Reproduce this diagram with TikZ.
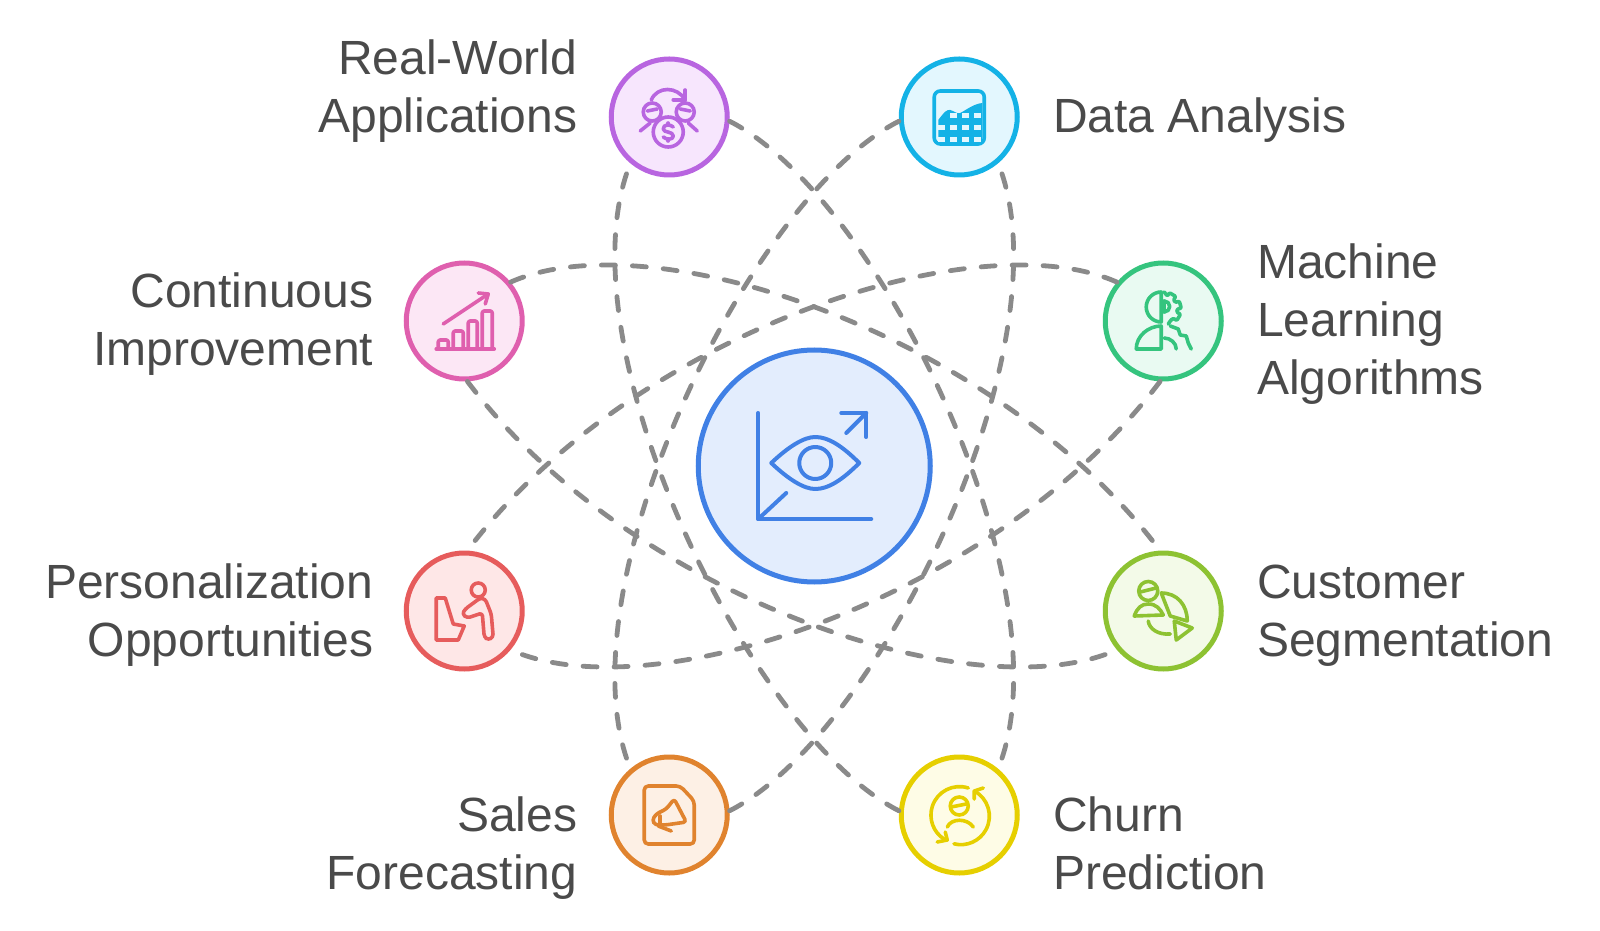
\documentclass[tikz,border=0pt]{standalone}
\usepackage{fontspec}
\setmainfont{Liberation Sans}
\usetikzlibrary{positioning}
\definecolor{linkgray}{HTML}{8A8A8A}
\definecolor{labelgray}{HTML}{4A4A4A}
\definecolor{blueline}{HTML}{4080E5}
\definecolor{bluefill}{HTML}{E3EDFD}
\definecolor{purpleline}{HTML}{B865E0}
\definecolor{purplefill}{HTML}{F7E6FD}
\definecolor{cyanline}{HTML}{14B2E6}
\definecolor{cyanfill}{HTML}{E3F7FE}
\definecolor{pinkline}{HTML}{DF5FAE}
\definecolor{pinkfill}{HTML}{FCE7F5}
\definecolor{greenline}{HTML}{35C47E}
\definecolor{greenfill}{HTML}{E9FAF2}
\definecolor{redline}{HTML}{E65C5C}
\definecolor{redfill}{HTML}{FEE7E7}
\definecolor{limeline}{HTML}{8DC232}
\definecolor{limefill}{HTML}{F3FAE8}
\definecolor{orangeline}{HTML}{E0832E}
\definecolor{orangefill}{HTML}{FDF0E5}
\definecolor{yellowline}{HTML}{E6CF00}
\definecolor{yellowfill}{HTML}{FEFCE6}

\begin{document}
\begin{tikzpicture}[
    x=0.5pt, y=0.5pt,
    every node/.style={font=\fontsize{24}{28.9}\selectfont, text=labelgray},
    topic/.style={draw=#1line, fill=#1fill, circle, line width=2.5pt, minimum size=58pt, inner sep=0pt},
    hub/.style={draw=blueline, fill=bluefill, circle, line width=2.5pt, minimum size=116pt, inner sep=0pt},
    leftlabel/.style={align=right, inner sep=0pt},
    rightlabel/.style={align=left, inner sep=0pt},
    link/.style={draw=linkgray, line width=2.4pt, line cap=round, dash pattern=on 7pt off 8.5pt},
    icon/.style={draw=#1line, line width=1.8pt, line cap=round, line join=round}
]
\useasboundingbox (-814.25,-465) rectangle (785.75,466);

\node (hubnode) [hub] at (0,0) {};
\node (realworld) [topic=purple] at (-145,349) {};
\node (dataanalysis) [topic=cyan] at (145,349) {};
\node (continuous) [topic=pink] at (-350,145) {};
\node (machine) [topic=green] at (349,145) {};
\node (personalization) [topic=red] at (-350,-145) {};
\node (customer) [topic=lime] at (349,-145) {};
\node (sales) [topic=orange] at (-145,-349) {};
\node (churn) [topic=yellow] at (145,-349) {};

\node (realworldtext) [leftlabel, left=15.5pt of realworld, yshift=13pt] {Real-World\\Applications};
\node (dataanalysistext) [rightlabel, right=16.5pt of dataanalysis, yshift=-1.5pt] {Data Analysis};
\node (continuoustext) [leftlabel, left=15pt of continuous, yshift=-1.5pt] {Continuous\\Improvement};
\node (machinetext) [rightlabel, right=16.5pt of machine, yshift=-1.5pt] {Machine\\Learning\\Algorithms};
\node (personalizationtext) [leftlabel, left=15pt of personalization, yshift=-2pt] {Personalization\\Opportunities};
\node (customertext) [rightlabel, right=16.5pt of customer, yshift=-2.5pt] {Customer\\Segmentation};
\node (salestext) [leftlabel, left=15.5pt of sales, yshift=-16.5pt] {Sales\\Forecasting};
\node (churntext) [rightlabel, right=16.5pt of churn, yshift=-14pt] {Churn\\Prediction};

\draw [link] (realworld.-4) .. controls +(-27:170) and +(68:190) .. (churn.50);
\draw [link] (churn.176) .. controls +(153:170) and +(248:190) .. (realworld.230);
\draw [link] (dataanalysis.184) .. controls +(207:170) and +(112:190) .. (sales.130);
\draw [link] (sales.4) .. controls +(27:170) and +(-68:190) .. (dataanalysis.-50);
\draw [link] (continuous.40) .. controls +(24:155) and +(127:270) .. (customer.93);
\draw [link] (continuous.273) .. controls +(307:270) and +(204:155) .. (customer.220);
\draw [link] (machine.140) .. controls +(156:155) and +(53:270) .. (personalization.87);
\draw [link] (machine.267) .. controls +(233:270) and +(-24:155) .. (personalization.-40);

\begin{scope}[shift={(hubnode.center)}, icon/.append style={line width=2pt}]
\draw [icon=blue] (-56,53) -- (-56,-53) -- (57,-53);
\draw [icon=blue] (-56,-53) -- (-28,-27);
\draw [icon=blue] (32,33) -- (52,53);
\draw [icon=blue] (27,53) -- (52,53) -- (52,29);
\draw [icon=blue] (-43,3) .. controls (-25,20) and (-10,29) .. (1,29) .. controls (14,29) and (28,20) .. (45,3) .. controls (28,-14) and (14,-23) .. (1,-23) .. controls (-10,-23) and (-25,-14) .. (-43,3) -- cycle;
\draw [icon=blue] (1,3) circle [radius=16];
\end{scope}

\begin{scope}[shift={(realworld.center)}]
\draw [icon=purple] (-18,17) .. controls (-12,31) and (8,31) .. (16,17);
\draw [icon=purple] (16,27) -- (16,17) -- (4,17);
\draw [icon=purple] (-17,5) circle [radius=9];
\draw [icon=purple] (16,5) circle [radius=9];
\draw [icon=purple] (-22,6) -- (-12,8);
\draw [icon=purple] (11,8) -- (21,6);
\fill [purplefill] (-1,-15) circle [radius=15];
\draw [icon=purple] (-1,-15) circle [radius=15];
\draw [icon=purple] (-29,-14) -- (-19,-6);
\draw [icon=purple] (28,-14) -- (19,-6);
\draw [icon=purple] (4,-10) .. controls (1,-7) and (-6,-7) .. (-6,-12) .. controls (-6,-16) and (4,-14) .. (4,-19) .. controls (4,-23) and (-3,-23) .. (-6,-20);
\draw [icon=purple] (-1,-6) -- (-1,-8);
\draw [icon=purple] (-1,-22) -- (-1,-24);
\end{scope}

\begin{scope}[shift={(dataanalysis.center)}]
\fill [cyanline] (-21,-3) .. controls (-15,5) and (-12,8) .. (-9,7) .. controls (-5,6) and (-3,3) .. (1,4) .. controls (7,7) and (14,13) .. (23,14) -- (23,-26) -- (-21,-26) -- cycle;
\draw [icon=cyan, rounded corners=3pt] (-25,26) rectangle (25,-27);
\foreach \cellx in {-21,-9,3,15} {
    \foreach \celly in {-13,-25} {
        \fill [cyanfill] (\cellx,\celly) rectangle ++(7,5);
    }
}
\foreach \cellx in {-9,3,15} {
    \fill [cyanfill] (\cellx,-1) rectangle ++(7,5);
}
\end{scope}

\begin{scope}[shift={(continuous.center)}]
\draw [icon=pink] (-28,-28) -- (30,-28);
\draw [icon=pink, rounded corners=1pt] (-26,-28) -- (-26,-19) -- (-16,-19) -- (-16,-28);
\draw [icon=pink, rounded corners=1pt] (-11,-28) -- (-11,-10) -- (-1,-10) -- (-1,-28);
\draw [icon=pink, rounded corners=1pt] (4,-28) -- (4,0) -- (13,0) -- (13,-28);
\draw [icon=pink, rounded corners=1pt] (18,-28) -- (18,10) -- (28,10) -- (28,-28);
\draw [icon=pink] (-21,-3) -- (24,27);
\draw [icon=pink] (14,28) -- (24,27) -- (21,17);
\end{scope}

\begin{scope}[shift={(machine.center)}]
\draw [icon=green] (-2,29) arc [start angle=90, end angle=270, radius=15] -- cycle;
\draw [icon=green] (-2,-5) .. controls (-15,-5) and (-27,-15) .. (-27,-28) -- (-2,-28) -- cycle;
\draw [icon=green] (1,20) -- (1,9);
\draw [icon=green] (1,20) arc [start angle=90, end angle=-90, radius=5.5];
\draw [icon=green, rounded corners=0.5pt] (1,29) -- (4.1,25) -- (6.3,28.2) -- (12.4,24.6) -- (10.4,21) -- (12.1,18.7) -- (16.1,19.7) -- (18,12.9) -- (14,11.8) -- (13.6,8.9) -- (17.2,6.7) -- (13.6,0.6) -- (10,2.6) -- (7.5,0.7) -- (5,-3);
\draw [icon=green] (7,-5) -- (15,-8) -- (17,-14) -- (23,-15) -- (25,-22) -- (28,-28);
\draw [icon=green] (1,-17) .. controls (7,-17) and (13,-22) .. (13,-28);
\end{scope}

\begin{scope}[shift={(personalization.center)}]
\draw [icon=red] (-28,13) -- (-19,13) -- (-11,-13) -- (0,-15) -- (-6,-29) -- (-28,-29) -- cycle;
\draw [icon=red] (14,21) circle [radius=7];
\draw [icon=red, fill=redfill, rounded corners=1.5pt] (16,13) -- (1,2) -- (-2,-3) -- (3,-7) -- (18,-2) -- (20,-26) -- (24,-29) -- (29,-26) -- (27,-3) -- (21,12) -- cycle;
\end{scope}

\begin{scope}[shift={(customer.center)}]
\draw [icon=lime] (-15,20) circle [radius=9.5];
\draw [icon=lime] (-23,19) -- (-7,23);
\draw [icon=lime] (-29,-5) .. controls (-26,3) and (-22,7) .. (-15,7) .. controls (-7,7) and (-3,2) .. (0,-4) -- cycle;
\draw [icon=lime] (-2,18) .. controls (14,18) and (24,6) .. (24,-10) -- (7,-5) -- cycle;
\draw [icon=lime] (-15,-10) .. controls (-14,-18) and (-5,-24) .. (7,-23);
\draw [icon=lime] (11,-10) -- (29,-17) -- (13,-29) -- cycle;
\end{scope}

\begin{scope}[shift={(sales.center)}]
\draw [icon=orange, rounded corners=2pt] (-25,29) -- (11,29) -- (25,14) -- (25,-29) -- (-25,-29) -- cycle;
\draw [icon=orange, rounded corners=1.5pt] (5,16) -- (17,-7) -- (-4,-10) -- (-14,-10) -- (-17,-5) -- (-13,1) -- (-3,6) -- cycle;
\draw [icon=orange] (-9,-1) -- (-9,-9);
\draw [icon=orange] (-11,-11) -- (2,-16);
\end{scope}

\begin{scope}[shift={(churn.center)}]
\draw [icon=yellow] (0,9) circle [radius=9];
\draw [icon=yellow] (-8,8) -- (7,11);
\draw [icon=yellow] (-12,-12) .. controls (-8,-3) and (8,-3) .. (14,-12);
\draw [icon=yellow] (9,27) arc [start angle=72, end angle=237, radius=28.5];
\draw [icon=yellow] (-22,-27) -- (-12,-25) -- (-14,-17);
\draw [icon=yellow] (15,24) arc [start angle=62, end angle=-104, radius=28.5];
\draw [icon=yellow] (24,27) -- (15,24) -- (15,16);
\end{scope}

\end{tikzpicture}
\end{document}
